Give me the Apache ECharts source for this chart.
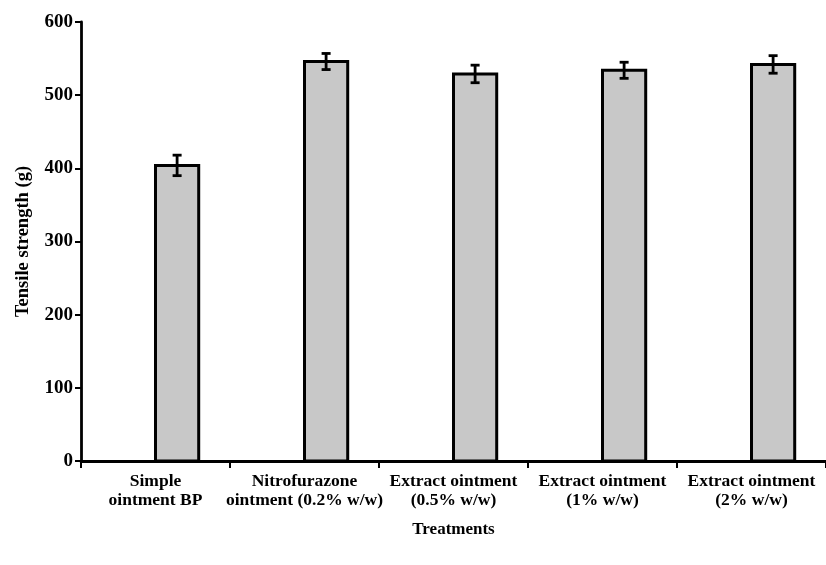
<!DOCTYPE html>
<html><head><meta charset="utf-8">
<script src="https://cdn.jsdelivr.net/npm/echarts@6/dist/echarts.min.js"></script>
<style>html,body{margin:0;padding:0;background:#fff}#c{width:826px;height:565px}</style>
</head><body><div id="c"></div>
<script>
const categories = ['Simple\nointment BP', 'Nitrofurazone\nointment (0.2% w/w)', 'Extract ointment\n(0.5% w/w)', 'Extract ointment\n(1% w/w)', 'Extract ointment\n(2% w/w)'];
const means = [404, 546, 529, 534, 542];
const errors = [14, 11, 12, 11, 12];
const yTicks = [0, 100, 200, 300, 400, 500, 600];

const font = 'Liberation Serif';
const chart = echarts.init(document.getElementById('c'));
const data = means.map((m, i) => [i, m, errors[i]]);
chart.setOption({
  animation: false,
  grid: { left: 81, right: 0, top: 22, bottom: 104, containLabel: false, outerBoundsMode: 'none' },
  xAxis: {
    type: 'category', data: categories, boundaryGap: true,
    name: 'Treatments', nameLocation: 'middle', nameGap: 60,
    nameTextStyle: { fontFamily: font, fontSize: 17, fontWeight: 'bold', color: '#000' },
    axisLine: { lineStyle: { color: '#000', width: 2.8 } },
    axisTick: { show: true, alignWithLabel: false, length: 7, lineStyle: { color: '#000', width: 2 } },
    axisLabel: { fontFamily: font, fontSize: 17.5, fontWeight: 'bold', color: '#000', margin: 11, lineHeight: 19, interval: 0 }
  },
  yAxis: {
    type: 'value', min: 0, max: 600, interval: 100,
    name: 'Tensile strength (g)', nameLocation: 'middle', nameGap: 48,
    nameTextStyle: { fontFamily: font, fontSize: 18.5, fontWeight: 'bold', color: '#000' },
    axisLine: { show: true, lineStyle: { color: '#000', width: 2.8 } },
    axisTick: { show: true, length: 6, lineStyle: { color: '#000', width: 2 } },
    axisLabel: { fontFamily: font, fontSize: 19, fontWeight: 'bold', color: '#000', margin: 8,
      formatter: v => yTicks.includes(v) ? String(v) : '' },
    splitLine: { show: false }
  },
  series: [{
    type: 'custom',
    data: data,
    renderItem: function (params, api) {
      const i = api.value(0), m = api.value(1), e = api.value(2);
      const band = api.size([1, 0])[0];
      const off = band * 0.145;
      const bw = band * 0.29;
      const top = api.coord([i, m]);
      const base = api.coord([i, 0]);
      const cx = top[0] + off;
      const hi = api.coord([i, m + e])[1];
      const lo = api.coord([i, m - e])[1];
      const cap = 4.5;
      return {
        type: 'group',
        children: [
          { type: 'rect', shape: { x: cx - bw / 2, y: top[1], width: bw, height: base[1] - top[1] },
            style: { fill: '#c8c8c8', stroke: '#000', lineWidth: 3 } },
          { type: 'line', shape: { x1: cx, y1: hi, x2: cx, y2: lo }, style: { stroke: '#000', lineWidth: 2.8 } },
          { type: 'line', shape: { x1: cx - cap, y1: hi, x2: cx + cap, y2: hi }, style: { stroke: '#000', lineWidth: 2.8 } },
          { type: 'line', shape: { x1: cx - cap, y1: lo, x2: cx + cap, y2: lo }, style: { stroke: '#000', lineWidth: 2.8 } }
        ]
      };
    }
  }]
});
</script></body></html>
